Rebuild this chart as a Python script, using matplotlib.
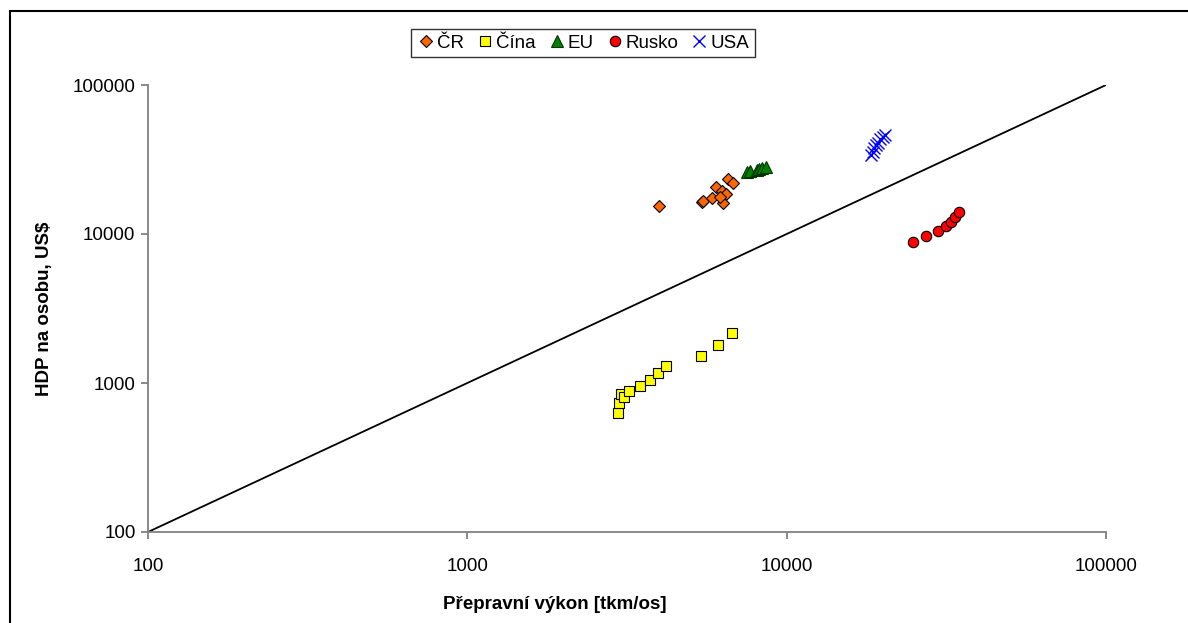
import numpy as np
import matplotlib
matplotlib.use("Agg")
import matplotlib.pyplot as plt
from matplotlib.patches import Rectangle

plt.rcParams['font.family'] = ['Liberation Sans', 'DejaVu Sans']

# data (x = tkm/os, y = HDP na osobu)
cr_x = [3983, 5419, 5470, 5826, 6007, 6260, 6457, 6305, 6566, 6806, 6183]
cr_y = [15484, 16475, 16730, 17520, 20580, 19440, 18470, 16070, 23390, 21890, 17800]

cina_x = [2957, 2985, 3028, 3094, 3208, 3473, 3733, 3946, 4181, 5380, 6095, 6745]
cina_y = [632, 738, 844, 802, 884, 955, 1047, 1162, 1301, 1518, 1799, 2166]

eu_x = [7531, 7677, 8057, 8209, 8352, 8614]
eu_y = [25950, 26470, 26880, 27300, 27600, 28170]

rusko_x = [24920, 27310, 29720, 31540, 32700, 33740, 34650]
rusko_y = [8799, 9741, 10520, 11370, 11980, 13010, 14050]

usa_x = [18330, 18600, 18820, 19050, 19370, 19600, 20070, 20320]
usa_y = [33900, 35670, 37590, 39580, 41000, 43230, 44970, 46150]

ref_line = [100, 100000]
ticks = [100, 1000, 10000, 100000]
tick_labels = ['100', '1000', '10000', '100000']

fig = plt.figure(figsize=(11.88, 6.23), dpi=100)
ax = fig.add_axes([148/1188, 1-532/623, (1106-148)/1188, (532-85)/623])

# chart area frame (cut off at right and bottom in the reference)
fig.patches.append(Rectangle((10/1188, -0.2), 1.2, 1-11/623+0.2,
                             transform=fig.transFigure, fill=False,
                             edgecolor='black', linewidth=1.5, clip_on=False))

ax.plot(ref_line, ref_line, color='black', linewidth=1.3, zorder=1)

ax.plot(cr_x, cr_y, 'D', color='#FF6600', mec='black', mew=0.8, ms=6.5, label='ČR', zorder=3)
ax.plot(cina_x, cina_y, 's', color='#FFFF00', mec='black', mew=0.8, ms=7, label='Čína', zorder=3)
ax.plot(eu_x, eu_y, '^', color='#008000', mec='#003300', mew=0.8, ms=8.5, label='EU', zorder=3)
ax.plot(rusko_x, rusko_y, 'o', color='#FF0000', mec='black', mew=0.8, ms=7.5, label='Rusko', zorder=3)
ax.plot(usa_x, usa_y, 'x', color='#0000FF', mew=1.0, ms=8, label='USA', zorder=3)

ax.set_xscale('log')
ax.set_yscale('log')
ax.set_xlim(100, 100000)
ax.set_ylim(100, 100000)
ax.set_xticks(ticks)
ax.set_xticklabels(tick_labels)
ax.set_yticks(ticks)
ax.set_yticklabels(tick_labels)
ax.minorticks_off()

for s in ['top', 'right']:
    ax.spines[s].set_visible(False)
for s in ['left', 'bottom']:
    ax.spines[s].set_color('#808080')
    ax.spines[s].set_linewidth(1.3)
ax.tick_params(axis='both', which='major', direction='out', length=5,
               color='#808080', width=1.3, labelsize=13.5)
ax.tick_params(axis='x', pad=14)
ax.tick_params(axis='y', pad=4)

ax.set_xlabel('Přepravní výkon [tkm/os]', fontsize=13.5, fontweight='bold')
ax.set_ylabel('HDP na osobu, US$', fontsize=13.5, fontweight='bold')
ax.xaxis.set_label_coords((555-148)/(1106-148), -(596-532)/(532-85))
ax.yaxis.set_label_coords(-(148-53)/(1106-148), 0.5)

leg = fig.legend(loc='center', bbox_to_anchor=(583/1188, 1-43/623), ncol=5,
                 frameon=True, fancybox=False, fontsize=13.5, handletextpad=0.1,
                 columnspacing=0.6, borderpad=0.3, handlelength=1.0,
                 borderaxespad=0)
leg.get_frame().set_edgecolor('black')
leg.get_frame().set_linewidth(1.0)

fig.savefig('out.png', dpi=100)
